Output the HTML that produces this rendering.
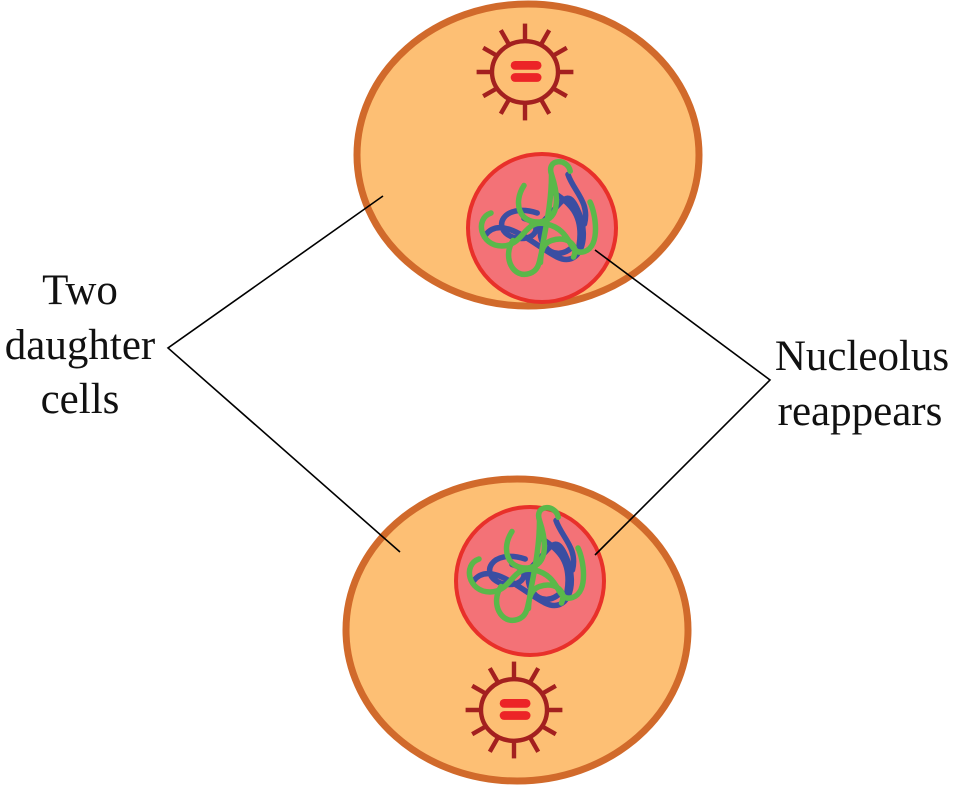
<!DOCTYPE html>
<html><head><meta charset="utf-8"><style>html,body{margin:0;padding:0;background:#fff}svg{display:block}</style></head>
<body>
<svg width="953" height="786" viewBox="0 0 953 786" xmlns="http://www.w3.org/2000/svg">
<defs>
<g id="centro">
  <g stroke="#a3201f" stroke-width="4" stroke-linecap="butt">
    <line x1="0" y1="-28" x2="0" y2="-44"/>
    <line x1="0" y1="28" x2="0" y2="44"/>
    <line x1="-28" y1="0" x2="-44" y2="0"/>
    <line x1="28" y1="0" x2="44" y2="0"/>
    <line x1="14" y1="-24" x2="22" y2="-38"/>
    <line x1="-14" y1="-24" x2="-22" y2="-38"/>
    <line x1="14" y1="24" x2="22" y2="38"/>
    <line x1="-14" y1="24" x2="-22" y2="38"/>
    <line x1="24" y1="-14" x2="38" y2="-22"/>
    <line x1="-24" y1="-14" x2="-38" y2="-22"/>
    <line x1="24" y1="14" x2="38" y2="22"/>
    <line x1="-24" y1="14" x2="-38" y2="22"/>
  </g>
  <ellipse cx="0" cy="0" rx="30" ry="28" fill="#fdbf74" stroke="#a3201f" stroke-width="4"/>
  <rect x="-13" y="-10" width="28" height="8" rx="4" fill="#ec2427"/>
  <rect x="-13" y="1" width="28" height="8" rx="4" fill="#ec2427"/>
</g>
<g id="chrom" fill="none" stroke-width="5" stroke-linecap="round">
  <path d="M-8,-10 C-40,-20 -50,5 -30,12 C-10,18 0,0 -20,-5 M-55,10 C-40,-10 -10,20 10,30 C30,40 40,15 30,-10 C20,-35 15,-20 0,-5 C-15,10 5,40 25,20 M5,-30 C20,-20 35,-10 30,20 M20,-45 C25,-30 40,-20 35,0" stroke="#3a4ea2"/>
  <path d="M-20,-35 C-30,-20 -25,0 -5,-2 C15,-5 10,-30 5,-45 C0,-60 20,-60 22,-48 M-50,-10 C-65,-5 -60,20 -40,20 C-20,20 -20,-5 0,0 C25,5 20,30 35,25 C50,20 45,-10 40,-20 M-30,15 C-40,30 -30,50 -15,45 C0,40 -10,20 5,15 C20,10 30,20 25,30 M5,-45 C5,-10 -5,20 -5,35" stroke="#5ab84a"/>
</g>
</defs>
<ellipse cx="528" cy="155" rx="171" ry="151" fill="#fdbf74" stroke="#d16a2b" stroke-width="7"/>
<ellipse cx="517" cy="630" rx="171" ry="151" fill="#fdbf74" stroke="#d16a2b" stroke-width="7"/>
<use href="#centro" transform="translate(525,72) scale(1.1)"/>
<use href="#centro" transform="translate(514,710) scale(1.1)"/>
<circle cx="542" cy="228" r="74" fill="#f37277" stroke="#e8302a" stroke-width="4"/>
<circle cx="530" cy="581" r="74" fill="#f37277" stroke="#e8302a" stroke-width="4"/>
<use href="#chrom" transform="translate(546,224) scale(1.1)"/>
<use href="#chrom" transform="translate(534,570) scale(1.1)"/>
<g stroke="#000" stroke-width="1.6" fill="none">
  <polyline points="383,196 168,348 400,552"/>
  <polyline points="595,250 770,380 595,555"/>
</g>
<g font-family="Liberation Serif, serif" font-size="43" fill="#111" text-anchor="middle">
  <text x="80" y="304">Two</text>
  <text x="80" y="359">daughter</text>
  <text x="80" y="413">cells</text>
  <text x="862" y="370">Nucleolus</text>
  <text x="860" y="425">reappears</text>
</g>
</svg>
</body></html>
